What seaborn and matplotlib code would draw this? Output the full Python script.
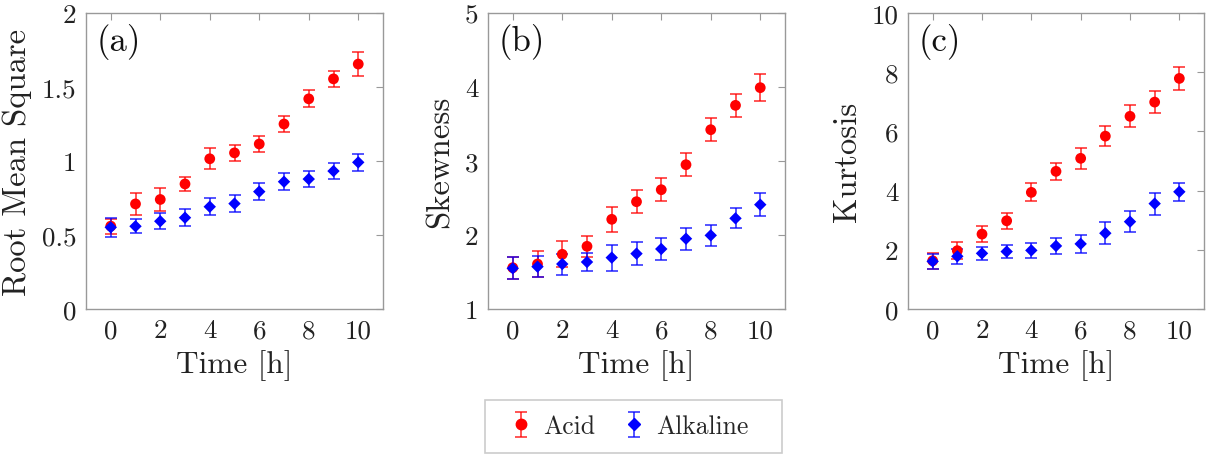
import matplotlib
matplotlib.use("Agg")
import matplotlib.pyplot as plt
import seaborn as sns
import numpy as np
import pandas as pd
from matplotlib.legend_handler import HandlerTuple
from matplotlib.lines import Line2D
from matplotlib.patches import Rectangle

time_h = [0, 1, 2, 3, 4, 5, 6, 7, 8, 9, 10]

rms_acid = [0.56, 0.71, 0.74, 0.845, 1.015, 1.055, 1.115, 1.25, 1.42, 1.555, 1.655]
rms_acid_err = [0.05, 0.073, 0.075, 0.047, 0.07, 0.056, 0.056, 0.056, 0.057, 0.056, 0.079]
rms_alk = [0.552, 0.559, 0.593, 0.617, 0.691, 0.712, 0.793, 0.86, 0.878, 0.932, 0.991]
rms_alk_err = [0.065, 0.047, 0.053, 0.056, 0.056, 0.056, 0.056, 0.056, 0.056, 0.056, 0.059]

skew_acid = [1.558, 1.608, 1.739, 1.847, 2.212, 2.45, 2.612, 2.95, 3.423, 3.752, 3.991]
skew_acid_err = [0.15, 0.17, 0.176, 0.146, 0.169, 0.153, 0.153, 0.158, 0.158, 0.158, 0.178]
skew_alk = [1.55, 1.572, 1.608, 1.635, 1.694, 1.748, 1.811, 1.95, 1.995, 2.225, 2.41]
skew_alk_err = [0.15, 0.146, 0.142, 0.126, 0.176, 0.153, 0.153, 0.151, 0.144, 0.137, 0.155]

kurt_acid = [1.63, 1.97, 2.53, 2.98, 3.94, 4.65, 5.09, 5.84, 6.51, 6.99, 7.79]
kurt_acid_err = [0.27, 0.28, 0.28, 0.28, 0.30, 0.29, 0.35, 0.35, 0.37, 0.36, 0.38]
kurt_alk = [1.61, 1.78, 1.88, 1.94, 1.98, 2.13, 2.2, 2.56, 2.95, 3.56, 3.96]
kurt_alk_err = [0.26, 0.25, 0.23, 0.23, 0.26, 0.26, 0.30, 0.37, 0.36, 0.37, 0.30]

panels = [
    ("(a)", "Root Mean Square", rms_acid, rms_acid_err, rms_alk, rms_alk_err,
     (0, 2), [0, 0.5, 1, 1.5, 2], ["0", "0.5", "1", "1.5", "2"]),
    ("(b)", "Skewness", skew_acid, skew_acid_err, skew_alk, skew_alk_err,
     (1, 5), [1, 2, 3, 4, 5], ["1", "2", "3", "4", "5"]),
    ("(c)", "Kurtosis", kurt_acid, kurt_acid_err, kurt_alk, kurt_alk_err,
     (0, 10), [0, 2, 4, 6, 8, 10], ["0", "2", "4", "6", "8", "10"]),
]

sns.set_theme(style="white")
plt.rcParams["font.family"] = ["cmr10", "DejaVu Serif"]
plt.rcParams["mathtext.fontset"] = "cm"
plt.rcParams["axes.formatter.use_mathtext"] = True

W, H = 1211, 456
fig = plt.figure(figsize=(W / 100, H / 100), dpi=100)
lefts = [86, 488, 908]
widths = [297, 297, 296]
bottom_px, top_px = 310, 14

spine_col = "#999999"
acid_col = "#ff0000"
alk_col = "#0000ff"

handles = None
for i, (tag, ylab, ya, ea, yb, eb, ylim, yticks, yticklabels) in enumerate(panels):
    ax = fig.add_axes([lefts[i] / W, (H - bottom_px) / H, widths[i] / W, (bottom_px - top_px) / H])
    df = pd.DataFrame({
        "t": time_h * 2,
        "v": list(ya) + list(yb),
        "g": ["Acid"] * len(time_h) + ["Alkaline"] * len(time_h),
    })
    ec1 = ax.errorbar(time_h, ya, yerr=ea, fmt="none", ecolor=acid_col, elinewidth=1.1,
                      capsize=4, capthick=1.1, alpha=0.85, zorder=2)
    ec2 = ax.errorbar(time_h, yb, yerr=eb, fmt="none", ecolor=alk_col, elinewidth=1.1,
                      capsize=4, capthick=1.1, alpha=0.85, zorder=2)
    sns.scatterplot(data=df, x="t", y="v", hue="g", style="g",
                    palette={"Acid": acid_col, "Alkaline": alk_col},
                    markers={"Acid": "o", "Alkaline": "D"},
                    size="g", sizes={"Acid": 60, "Alkaline": 40},
                    edgecolor="none", legend=False, ax=ax, zorder=3)
    ax.set_xlim(-1, 11)
    ax.set_ylim(*ylim)
    ax.set_xticks([0, 2, 4, 6, 8, 10])
    ax.set_xticklabels(["0", "2", "4", "6", "8", "10"])
    ax.set_yticks(yticks)
    ax.set_yticklabels(yticklabels)
    ax.set_xlabel("Time [h]", fontsize=22.5, color="#222222", labelpad=5)
    ax.set_ylabel(ylab, fontsize=23.5, color="#222222", labelpad=7)
    ax.tick_params(direction="in", length=5, width=0.8, color=spine_col,
                   top=True, right=True, labelsize=19.5, labelcolor="#222222", pad=7)
    for s in ax.spines.values():
        s.set_color(spine_col)
        s.set_linewidth(1.0)
    ax.text(0.035, 0.965, tag, transform=ax.transAxes, ha="left", va="top",
            fontsize=25, color="#111111")
    if handles is None:
        m1 = Line2D([], [], color=acid_col, marker="o", linestyle="none", markersize=7.5)
        m2 = Line2D([], [], color=alk_col, marker="D", linestyle="none", markersize=6)
        handles = [(ec1, m1), (ec2, m2)]

# legend frame (drawn separately so the entries can sit left of centre as in the original)
frame = Rectangle((485 / W, 2 / H), 297 / W, 53 / H, transform=fig.transFigure,
                  fill=True, facecolor="white", edgecolor="#cccccc", linewidth=1.2, zorder=0)
fig.add_artist(frame)

leg = fig.legend(handles, ["Acid", "Alkaline"], loc="center left",
                 bbox_to_anchor=(505.5 / W, 28.5 / H),
                 bbox_transform=fig.transFigure,
                 ncol=2, frameon=False, borderaxespad=0.0, borderpad=0.0,
                 handler_map={tuple: HandlerTuple(ndivide=1)},
                 handlelength=1.2, columnspacing=0.92,
                 handletextpad=0.26, prop={"family": ["cmr10", "DejaVu Serif"], "size": 18.5})

fig.savefig("out.png", dpi=100)
